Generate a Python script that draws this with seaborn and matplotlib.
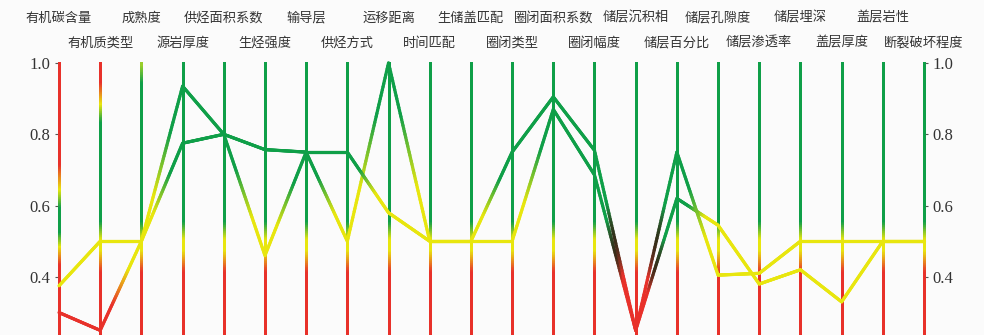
import numpy as np
import pandas as pd
import matplotlib
matplotlib.use("Agg")
import matplotlib.pyplot as plt
from matplotlib.collections import LineCollection
from matplotlib.colors import to_rgb, BoundaryNorm, ListedColormap
from matplotlib.transforms import blended_transform_factory
import seaborn as sns

# Evaluation dimensions (parallel axes, left to right)
dimensions = ['有机碳含量', '有机质类型', '成熟度', '源岩厚度', '供烃面积系数', '生烃强度',
              '输导层', '供烃方式', '运移距离', '时间匹配', '生储盖匹配', '圈闭类型',
              '圈闭面积系数', '圈闭幅度', '储层沉积相', '储层百分比', '储层孔隙度',
              '储层渗透率', '储层埋深', '盖层厚度', '盖层岩性', '断裂破坏程度']

# Normalised scores of the two evaluated targets
target_1 = [0.30, 0.25, 0.50, 0.935, 0.80, 0.757, 0.75, 0.75, 0.58, 0.50, 0.50,
            0.75, 0.905, 0.755, 0.25, 0.75, 0.405, 0.41, 0.50, 0.50, 0.50, 0.50]
target_2 = [0.375, 0.50, 0.50, 0.775, 0.80, 0.46, 0.75, 0.50, 1.00, 0.50, 0.50,
            0.50, 0.87, 0.686, 0.25, 0.62, 0.545, 0.38, 0.42, 0.33, 0.50, 0.50]

tick_values = [0.4, 0.6, 0.8, 1.0]
y_min, y_max = 0.237, 1.0

RED, YELLOW, GREEN = "#e8312a", "#e8e60e", "#0f9f48"
BG = "#fbfbfb"

sns.set_theme(style="white")
plt.rcParams['font.family'] = ['Noto Sans CJK SC', 'DejaVu Sans']

fig = plt.figure(figsize=(9.84, 3.35), dpi=100, facecolor=BG)
ax = fig.add_axes([59 / 984, 0.0, (924 - 59) / 984, 1 - 63 / 335])
ax.set_facecolor(BG)

positions = np.arange(len(dimensions))
df = pd.DataFrame({
    "pos": np.concatenate([positions, positions]),
    "value": target_1 + target_2,
    "target": ["目标1"] * len(positions) + ["目标2"] * len(positions),
})

# base layer establishing the scales; coloured strokes are added on top
sns.lineplot(data=df, x="pos", y="value", units="target", estimator=None,
             linewidth=0, legend=False, ax=ax)
ax.set_xlim(0, len(dimensions) - 1)
ax.set_ylim(y_min, y_max)

# ---- vertical axes with value gradient ----
default_stops = [(y_min, RED), (0.42, RED), (0.48, YELLOW), (0.51, YELLOW),
                 (0.56, GREEN), (y_max, GREEN)]
axis_stops = {
    0: [(y_min, RED), (0.44, RED), (0.49, YELLOW), (0.53, GREEN), (0.60, GREEN),
        (0.65, YELLOW), (0.72, RED), (y_max, RED)],
    1: [(y_min, RED), (0.42, RED), (0.48, YELLOW), (0.51, YELLOW), (0.56, GREEN),
        (0.84, GREEN), (0.89, YELLOW), (0.95, RED), (y_max, RED)],
    2: [(y_min, RED), (0.42, RED), (0.48, YELLOW), (0.51, YELLOW), (0.56, GREEN),
        (0.95, GREEN), (y_max, "#9ccf2a")],
}


def gradient_colors(ys, stops):
    sv = np.array([s[0] for s in stops])
    sc = np.array([to_rgb(s[1]) for s in stops])
    return np.stack([np.interp(ys, sv, sc[:, k]) for k in range(3)], axis=1)


ys = np.linspace(y_min, y_max, 400)
for i, x in enumerate(positions):
    pts = np.column_stack([np.full_like(ys, x), ys])
    segs = np.stack([pts[:-1], pts[1:]], axis=1)
    cols = gradient_colors((ys[:-1] + ys[1:]) / 2, axis_stops.get(i, default_stops))
    lc = LineCollection(segs, colors=cols, linewidths=2.0, zorder=2,
                        capstyle="projecting", antialiaseds=False, clip_on=False)
    ax.add_collection(lc)

# ---- polylines coloured by score band, blended between axes ----
vertex_cmap = ListedColormap([RED, YELLOW, GREEN])
vertex_norm = BoundaryNorm([0.0, 0.32, 0.6, 1.01], vertex_cmap.N)


def vertex_rgb(v):
    return np.array(vertex_cmap(vertex_norm(v))[:3])


def draw_series(values):
    n_sub = 60
    for i in range(len(values) - 1):
        t = np.linspace(0, 1, n_sub + 1)
        xs = positions[i] + t * (positions[i + 1] - positions[i])
        yv = values[i] + t * (values[i + 1] - values[i])
        pts = np.column_stack([xs, yv])
        segs = np.stack([pts[:-1], pts[1:]], axis=1)
        tm = (t[:-1] + t[1:]) / 2
        w = np.clip((tm - 0.3) / 0.4, 0, 1)[:, None]
        c0, c1 = vertex_rgb(values[i]), vertex_rgb(values[i + 1])
        cols = c0 * (1 - w) + c1 * w
        # deepen the mid-tone where the green band meets the red band
        if abs(int(vertex_norm(values[i])) - int(vertex_norm(values[i + 1]))) == 2:
            cols = cols * (1 - 0.55 * np.sin(np.pi * w))
        lc = LineCollection(segs, colors=cols, linewidths=2.3, zorder=3,
                            capstyle="round", joinstyle="round", clip_on=False)
        ax.add_collection(lc)


draw_series(target_2)
draw_series(target_1)

# ---- ticks on both outer axes ----
ax.set_xticks([])
ax.set_xlabel("")
ax.set_ylabel("")
ax.set_yticks(tick_values)
ax.set_yticklabels([f"{v:.1f}" for v in tick_values])
ax.tick_params(axis="y", left=True, right=True, labelleft=True, labelright=True,
               direction="out", length=3, width=0.8, color="#555555", pad=3,
               labelsize=12, labelcolor="#333333", labelfontfamily="Liberation Serif")
sns.despine(ax=ax, left=True, right=True, top=True, bottom=True)

# ---- dimension names in two staggered rows ----
trans = blended_transform_factory(ax.transData, fig.transFigure)
for i, name in enumerate(dimensions):
    y = 1 - 18 / 335 if i % 2 == 0 else 1 - 43 / 335
    ax.text(positions[i], y, name, transform=trans, ha="center", va="center",
            fontsize=9.5, color="#333333")

fig.savefig("out.png", dpi=100, facecolor=BG)
